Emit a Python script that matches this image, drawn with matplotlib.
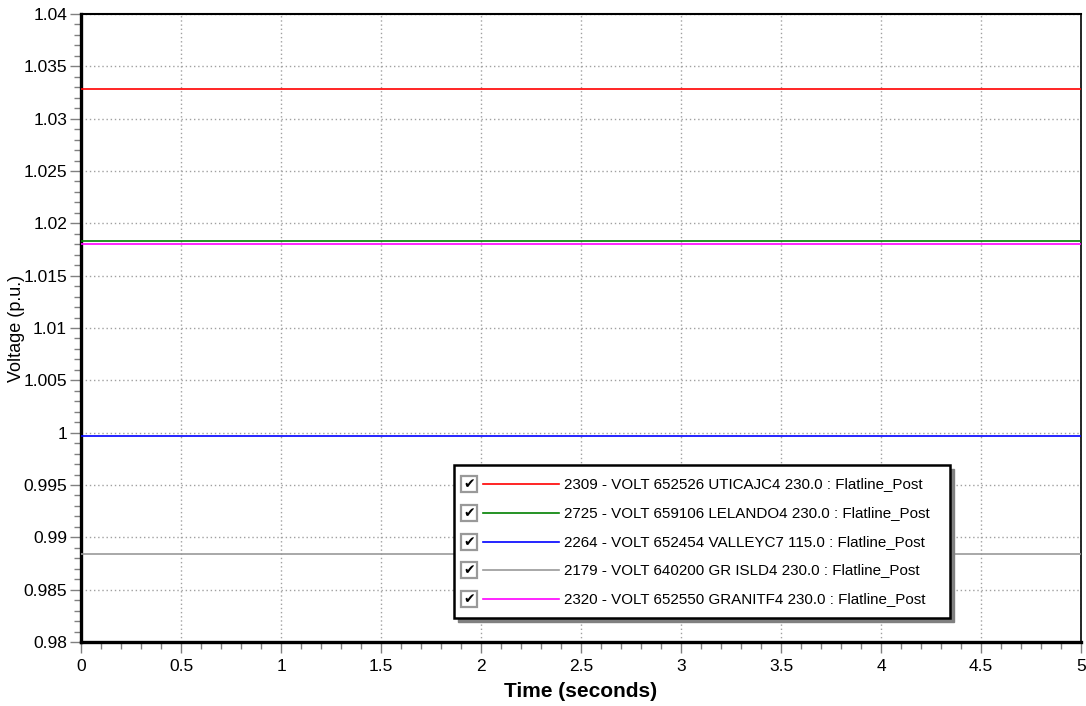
import matplotlib
matplotlib.use("Agg")
import matplotlib.pyplot as plt
from matplotlib.patches import Rectangle
from matplotlib.ticker import MultipleLocator
import numpy as np

plt.rcParams['font.family'] = ['Liberation Sans', 'DejaVu Sans']

# Data
time_range = [0.0, 5.0]
labels = [
    "2309 - VOLT 652526 UTICAJC4 230.0 : Flatline_Post",
    "2725 - VOLT 659106 LELANDO4 230.0 : Flatline_Post",
    "2264 - VOLT 652454 VALLEYC7 115.0 : Flatline_Post",
    "2179 - VOLT 640200 GR ISLD4 230.0 : Flatline_Post",
    "2320 - VOLT 652550 GRANITF4 230.0 : Flatline_Post",
]
voltages = [1.0328, 1.01834, 0.99965, 0.98838, 1.01806]
colors = ["#ff0000", "#008000", "#0000ff", "#999999", "#ff00ff"]
y_ticks = [0.98, 0.985, 0.99, 0.995, 1.0, 1.005, 1.01, 1.015, 1.02, 1.025, 1.03, 1.035, 1.04]
x_ticks = [0, 0.5, 1, 1.5, 2, 2.5, 3, 3.5, 4, 4.5, 5]

fig = plt.figure(figsize=(10.86, 7.06), dpi=100)
ax = fig.add_axes([81/1086, 1-642/706, 1000/1086, 628/706])

for v, c in zip(voltages, colors):
    ax.plot(time_range, [v, v], color=c, lw=1.2, zorder=3)

ax.set_xlim(0, 5)
ax.set_ylim(0.98, 1.04)
ax.set_xticks(x_ticks)
ax.set_yticks(y_ticks)
ax.set_xticklabels([("%g" % t) for t in x_ticks])
ax.set_yticklabels([("%g" % t) for t in y_ticks])
ax.xaxis.set_minor_locator(MultipleLocator(0.1))
ax.yaxis.set_minor_locator(MultipleLocator(0.001))
ax.tick_params(axis='both', which='major', direction='out', length=8, width=1,
               color='#808080', labelsize=12.5, pad=2)
ax.tick_params(axis='x', which='major', pad=4)
ax.tick_params(axis='both', which='minor', direction='out', length=5, width=1,
               color='#808080')
ax.grid(True, which='major', color='#a0a0a0', linestyle=(0, (1, 2)), lw=1)

for side in ['left', 'bottom']:
    ax.spines[side].set_linewidth(2.4)
    ax.spines[side].set_color('black')
ax.spines['top'].set_linewidth(1.5)
ax.spines['right'].set_linewidth(1.2)

ax.set_xlabel("Time (seconds)", fontsize=15, fontweight='bold', labelpad=6)
ax.set_ylabel("Voltage (p.u.)", fontsize=13, va='center')
ax.yaxis.set_label_coords(-0.064, 0.5)

# Manual legend (checkbox style)
fx0, fx1, fy0, fy1 = 0.373, 0.869, 0.0382, 0.2818
tr = ax.transAxes
ax.add_patch(Rectangle((fx0 + 0.004, fy0 - 0.0064), fx1 - fx0, fy1 - fy0, transform=tr,
                       facecolor='#808080', edgecolor='#808080', lw=1, zorder=9, clip_on=False))
ax.add_patch(Rectangle((fx0, fy0), fx1 - fx0, fy1 - fy0, transform=tr,
                       facecolor='white', edgecolor='black', lw=1.8, zorder=10, clip_on=False))
row_y = [0.2516, 0.2059, 0.1597, 0.1146, 0.0689]
for yy, lab, c in zip(row_y, labels, colors):
    ax.add_patch(Rectangle((0.380, yy - 0.0125), 0.016, 0.025, transform=tr,
                           facecolor='white', edgecolor='#999999', lw=1.6, zorder=11, clip_on=False))
    ax.text(0.388, yy, "\u2714", transform=tr, ha='center', va='center', fontsize=10,
            family=['DejaVu Sans'], color='black', zorder=12)
    ax.plot([0.402, 0.478], [yy, yy], transform=tr, color=c, lw=1.2, zorder=11, clip_on=False)
    ax.text(0.483, yy, lab, transform=tr, ha='left', va='center', fontsize=10.9, zorder=12)

fig.savefig("out.png", dpi=100)
